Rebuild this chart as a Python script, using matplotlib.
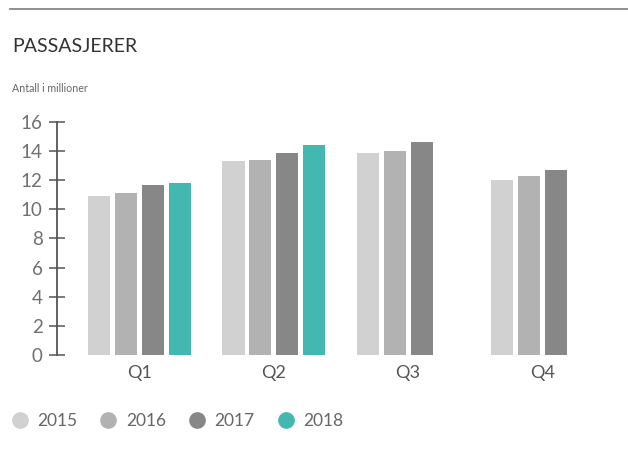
import matplotlib
matplotlib.use("Agg")
import matplotlib.pyplot as plt
from matplotlib.lines import Line2D
import numpy as np

quarters = ["Q1", "Q2", "Q3", "Q4"]
years = ["2015", "2016", "2017", "2018"]
v2015 = [10.9, 13.3, 13.85, 12.0]
v2016 = [11.1, 13.37, 14.0, 12.28]
v2017 = [11.66, 13.85, 14.6, 12.69]
v2018 = [11.8, 14.4, np.nan, np.nan]
series = [v2015, v2016, v2017, v2018]
colors = ["#d1d1d1", "#b2b2b2", "#878787", "#43b8b1"]
yticks = [0, 2, 4, 6, 8, 10, 12, 14, 16]

plt.rcParams['font.family'] = ['Lato', 'DejaVu Sans']

W, H = 628, 450
fig = plt.figure(figsize=(W / 100, H / 100), dpi=100)

left_px, right_px, top_px, bot_px = 56.7, 622, 121.7, 355
ax = fig.add_axes([left_px / W, 1 - bot_px / H, (right_px - left_px) / W, (bot_px - top_px) / H])

x = np.arange(len(quarters))
pitch = 0.2
width = 0.164
for i, (vals, c) in enumerate(zip(series, colors)):
    ax.bar(x + (i - 1.5) * pitch, vals, width=width, color=c, label=years[i])

ax.set_ylim(0, 16)
ax.set_xlim((left_px - 139.5) / 134.3, (right_px - 139.5) / 134.3)
for s in ["top", "right", "bottom"]:
    ax.spines[s].set_visible(False)
ax.spines["left"].set_color("#555555")
ax.spines["left"].set_linewidth(1.3)
ax.set_yticks(yticks)
ax.set_yticklabels([str(t) for t in yticks])
ax.tick_params(axis="y", direction="inout", length=12, width=1.1, color="#555555",
               labelcolor="#707070", labelsize=13.5, pad=4)
ax.set_xticks(x)
ax.set_xticklabels(quarters)
ax.tick_params(axis="x", length=0, labelcolor="#555555", labelsize=13, pad=7)

# header line
fig.add_artist(Line2D([10 / W, 1], [1 - 9 / H, 1 - 9 / H], color="#888888", lw=1.3))
fig.text(12 / W, 1 - 47 / H, "PASSASJERER", fontsize=14, color="#333333", va="center", ha="left")
fig.text(12 / W, 1 - 89 / H, "Antall i millioner", fontsize=7.7, color="#666666", va="center", ha="left")

handles = [Line2D([], [], marker="o", linestyle="none", markersize=11, markerfacecolor=c,
                  markeredgecolor=c) for c in colors]
leg = fig.legend(handles, years, loc="center left", bbox_to_anchor=(11 / W, 1 - 421 / H), ncol=4,
                 frameon=False, fontsize=12.5, handletextpad=0.5, columnspacing=1.3,
                 handlelength=1.0, borderaxespad=0, borderpad=0)
for t in leg.get_texts():
    t.set_color("#666666")

fig.savefig("out.png", dpi=100)
